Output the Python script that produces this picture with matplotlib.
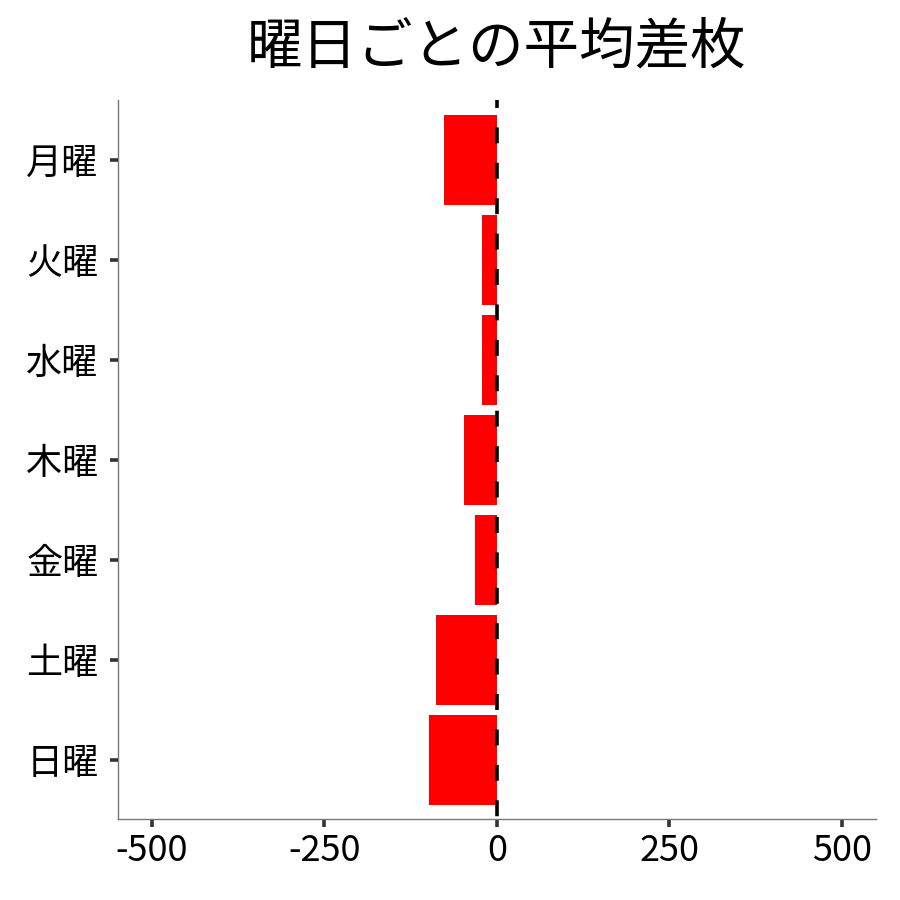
import matplotlib
matplotlib.use('Agg')
import matplotlib.pyplot as plt
import numpy as np

plt.rcParams['font.family'] = ['Noto Sans CJK JP', 'DejaVu Sans']
plt.rcParams['lines.scale_dashes'] = False

# mean coin difference per weekday
days = ['月曜', '火曜', '水曜', '木曜', '金曜', '土曜', '日曜']
diff = [-77, -21, -21, -48, -31, -88, -98]
xticks = [-500, -250, 0, 250, 500]

fig = plt.figure(figsize=(9, 9), dpi=100)
ax = fig.add_axes([0.131, 0.09, 0.842, 0.799])

ypos = np.arange(len(days))
ax.barh(ypos, diff, height=0.9, color='#ff0000', zorder=2)

# zero reference line
ax.plot([0, 0], [-0.6, 6.59], color='black', lw=2.6,
        linestyle=(5.8, (11.5, 14.0)), zorder=3, clip_on=False)

ax.set_xlim(-549, 549)
ax.set_ylim(6.59, -0.6)
ax.set_yticks(ypos)
ax.set_yticklabels(days)
ax.set_xticks(xticks)
ax.set_xticklabels([str(v) for v in xticks])

for side in ['top', 'right']:
    ax.spines[side].set_visible(False)
for side in ['left', 'bottom']:
    ax.spines[side].set_color('#777777')
    ax.spines[side].set_linewidth(1.0)

ax.tick_params(axis='both', length=6, width=2.6, color='#333333',
               labelsize=26, labelcolor='black', pad=8)
ax.tick_params(axis='x', pad=4)

ax.set_title('曜日ごとの平均差枚', fontsize=40, pad=26)

fig.savefig('out.png', dpi=100)
